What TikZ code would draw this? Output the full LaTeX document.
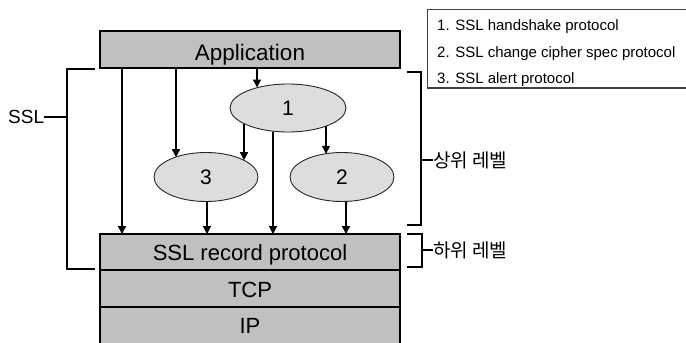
\documentclass[tikz,border=0pt]{standalone}
\usepackage{fontspec}
\setmainfont{Liberation Sans}
\newfontfamily\krfont{Noto Sans CJK KR}
\usetikzlibrary{arrows.meta,shapes.geometric}
\definecolor{boxgray}{RGB}{192,192,192}
\definecolor{ellgray}{RGB}{221,221,221}
\begin{document}
\begin{tikzpicture}[x=1pt,y=-1pt,
  layer/.style={draw=black,line width=2pt,fill=boxgray,minimum width=300pt,inner sep=0pt,outer sep=0pt},
  proto/.style={ellipse,draw=black!85,line width=0.9pt,fill=ellgray,inner sep=0pt,font=\fontsize{21}{21}\selectfont},
  arr/.style={line width=1.5pt,-{Triangle[length=8pt,width=8pt]}},
  brk/.style={line width=2pt},
  lbl/.style={inner sep=0pt},
  legtxt/.style={inner sep=0pt,anchor=base west,font=\fontsize{15}{15}\selectfont},
  krtxt/.style={inner sep=0pt,anchor=west,font=\krfont\fontsize{19}{19}\selectfont}
]
\useasboundingbox (0,0) rectangle (686,343);
% layers
\node[layer,minimum height=37pt] (app) at (250,49.5) {};
\node[layer,minimum height=36pt] (rec) at (250,252) {};
\node[layer,minimum height=37pt] (tcp) at (250,288.5) {};
\node[layer,minimum height=37pt] (ip) at (250,325.5) {};
\node[lbl,anchor=base,font=\fontsize{22.5}{22.5}\selectfont] (appt) at (250,60) {Application};
\node[lbl,anchor=base,font=\fontsize{22}{22}\selectfont] (rect) at (250,260.5) {SSL record protocol};
\node[lbl,anchor=base,font=\fontsize{22}{22}\selectfont] (tcpt) at (250,297) {TCP};
\node[lbl,anchor=base,font=\fontsize{22}{22}\selectfont] (ipt) at (250,333.5) {IP};
% ellipses
\node[proto,minimum width=116pt,minimum height=48pt] (e1) at (288,108) {1};
\node[proto,minimum width=104pt,minimum height=49pt] (e3) at (206,177) {3};
\node[proto,minimum width=104pt,minimum height=49pt] (e2) at (342,177) {2};
% boundary points
\coordinate (e1in) at (257,87.5);
\coordinate (e1a) at (244,123.6);
\coordinate (e1b) at (273,131.5);
\coordinate (e1c) at (326,126.2);
\coordinate (e3in) at (176,157.2);
\coordinate (e3r) at (244,160.2);
\coordinate (e3out) at (207,201.5);
\coordinate (e2in) at (326,153.8);
\coordinate (e2out) at (346,201.5);
% connectors
\draw[arr] (app.south -| 122,0) -- (rec.north -| 122,0);
\draw[arr] (app.south -| e3in) -- (e3in);
\draw[arr] (app.south -| e1in) -- (e1in);
\draw[arr] (e1a) -- (e3r);
\draw[arr] (e1c) -- (e2in);
\draw[arr] (e1b) -- (rec.north -| e1b);
\draw[arr] (e3out) -- (rec.north -| e3out);
\draw[arr] (e2out) -- (rec.north -| e2out);
% SSL bracket
\coordinate (s1) at (95,69);
\coordinate (s2) at (67,69);
\coordinate (s3) at (67,269);
\coordinate (s4) at (95,269);
\coordinate (sm) at (67,117);
\draw[brk] (s1) -- (s2) -- (s3) -- (s4);
\node[lbl,anchor=base west,font=\fontsize{19}{19}\selectfont] (ssl) at (8,123.5) {SSL};
\draw[brk] (ssl.east |- sm) -- (sm);
% upper level bracket
\coordinate (u1) at (407,72);
\coordinate (u2) at (420.5,72);
\coordinate (u3) at (420.5,225);
\coordinate (u4) at (407,225);
\coordinate (um) at (420.5,160);
\draw[brk] (u1) -- (u2) -- (u3) -- (u4);
\node[krtxt] (ul) at (433,160) {상위 레벨};
\draw[brk] (um) -- (ul.west |- um);
% lower level bracket
\coordinate (l1) at (407,233.5);
\coordinate (l2) at (421.5,233.5);
\coordinate (l3) at (421.5,266.5);
\coordinate (l4) at (407,266.5);
\coordinate (lm) at (421.5,250);
\draw[brk] (l1) -- (l2) -- (l3) -- (l4);
\node[krtxt] (ll) at (433,250) {하위 레벨};
\draw[brk] (lm) -- (ll.west |- lm);
% legend
\coordinate (g1) at (687,9.5);
\coordinate (g2) at (427.5,9.5);
\coordinate (g3) at (427.5,88);
\coordinate (g4) at (687,88);
\draw[line width=1.6pt,draw=black!75] (g1) -- (g2) -- (g3) -- (g4);
\node[legtxt] (t1) at (437,30) {1. SSL handshake protocol};
\node[legtxt] (t2) at (437,57) {2. SSL change cipher spec protocol};
\node[legtxt] (t3) at (437,83) {3. SSL alert protocol};
\end{tikzpicture}
\end{document}
